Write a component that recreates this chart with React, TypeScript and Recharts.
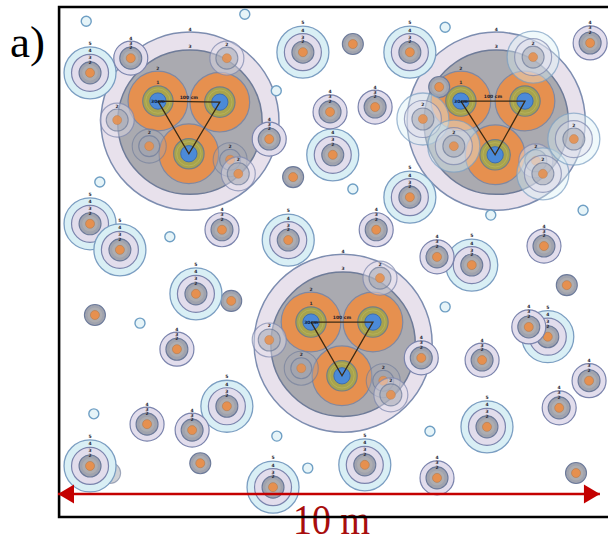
import React from 'react';
import { ScatterChart, Scatter, XAxis, YAxis, ReferenceArea } from 'recharts';

// ---------- data (metres, origin = bottom-left corner of the 10 m frame) ----------
const tinyRings: [number, number][] = [
  [0.52, 9.13], [3.44, 9.26], [0.77, 6.17], [2.06, 5.16], [1.51, 3.57], [0.66, 1.9],
  [4.03, 1.49], [5.43, 6.04], [7.13, 9.02], [9.67, 5.65], [7.13, 3.87], [6.85, 1.58],
  [4.6, 0.9], [4.02, 7.85], [7.97, 5.56],
];
const greyDiscs: [number, number][] = [
  [5.43, 8.71], [4.33, 6.26], [3.19, 3.98], [0.68, 3.72], [2.62, 0.99], [9.37, 4.27],
  [9.54, 0.81], [7.02, 7.92],
];
const fadedDiscs: [number, number][] = [[0.96, 0.81]];
const targets4: [number, number][] = [
  [9.8, 8.73], [5.01, 7.46], [5.84, 7.55], [3.02, 5.29], [5.86, 5.29], [6.98, 4.79],
  [8.95, 4.99], [2.19, 3.09], [1.64, 1.71], [2.47, 1.6], [8.67, 3.5], [7.81, 2.89],
  [9.78, 2.51], [9.23, 2.01], [6.98, 0.72], [1.34, 8.45], [3.89, 6.96], [6.69, 2.93],
];
const targets5: [number, number][] = [
  [0.59, 8.18], [4.51, 8.56], [6.48, 8.56], [5.06, 6.67], [6.48, 5.89], [0.59, 5.4],
  [1.14, 4.92], [4.24, 5.1], [7.62, 4.64], [2.54, 4.11], [3.11, 2.04], [0.59, 0.94],
  [3.96, 0.55], [9.02, 3.32], [7.9, 1.66], [5.65, 0.96],
];
const faded4: [number, number][] = [
  [3.11, 8.45], [1.09, 7.31], [3.32, 6.32], [8.8, 6.56], [5.93, 4.4], [3.89, 3.26], [6.13, 2.25],
];
const faded5: [number, number][] = [
  [6.72, 7.33], [7.29, 6.83], [8.93, 6.32], [9.5, 6.96], [8.75, 8.47],
];
const fadedGrey: [number, number][] = [
  [1.68, 6.83], [3.17, 6.58], [4.48, 2.74], [5.99, 2.51],
];
const cableClusters: [number, number][] = [[2.43, 7.29], [8.07, 7.29], [5.25, 3.2]];
const conductorsA: [number, number][] = [[1.84, 7.66], [2.98, 7.64], [2.41, 6.69]];
const conductorsB: [number, number][] = [[7.42, 7.66], [8.6, 7.66], [8.05, 6.67]];
const conductorsC: [number, number][] = [[4.66, 3.59], [5.8, 3.59], [5.23, 2.6]];
const conductorGroups = [conductorsA, conductorsB, conductorsC];
const coreLabel = '30cm';
const spacingLabel = '100 cm';
const arrowEnds: [number, number, number][] = [[0, 0.424, -1], [9.98, 0.424, 1]];
const panelLabel = 'a)';
const scaleLabel = '10 m';

// ---------- layout ----------
const W = 608;
const H = 538;
const MARGIN = { top: 7, right: 7, bottom: 21, left: 58 };
const X_SPAN = 10;
const PX = (W - MARGIN.left - MARGIN.right) / X_SPAN;
const Y_MAX = (H - MARGIN.top - MARGIN.bottom) / PX;

const pts = (a: [number, number][]) => a.map(([x, y]) => ({ x, y }));

// ---------- styles ----------
const C = {
  cyan: '#d9eff5', cyanS: '#7b9ec2',
  lav: '#e2ddec', lavS: '#7b84ad',
  grey: '#a0a3ae', greyS: '#6c7a9a',
  grey2: '#adadb1',
  orange: '#e6904f', orangeS: '#b57a4e',
  bigLav: '#e8e1ec', bigGrey: '#aaaab0',
  olive: '#a8a34c', blue: '#4b8ad8', blueS: '#3c6db3',
};

const Lbl = ({ x, y, t }: { x: number; y: number; t: string }) => (
  <text x={x} y={y} fontSize={4.5} fontWeight="bold" fontFamily="DejaVu Sans" textAnchor="middle" fill="#2a2a36">{t}</text>
);

const circ = (cx: number, cy: number, r: number, fill: string, stroke: string, sw = 1.2, fo = 1, so = 1) => (
  <circle cx={cx} cy={cy} r={r} fill={fill} fillOpacity={fo} stroke={stroke} strokeWidth={sw} strokeOpacity={so} />
);

const TinyShape = (p: any) => <g>{circ(p.cx, p.cy, 5, '#e6f4f8', '#6f9fc4', 1.4)}</g>;

const DiscShape = (p: any) => (
  <g>
    {circ(p.cx, p.cy, 10.5, C.grey, C.greyS, 1.1)}
    {circ(p.cx, p.cy, 7.5, C.grey2, 'none', 0)}
    {circ(p.cx, p.cy, 4.5, C.orange, C.orangeS, 0.6)}
  </g>
);
const FadedDiscShape = (p: any) => (
  <g>
    {circ(p.cx, p.cy, 10.5, C.grey, C.greyS, 1.1, 0.5, 0.6)}
    {circ(p.cx, p.cy, 4.5, C.orange, C.orangeS, 0.6, 0.5, 0.5)}
  </g>
);

const T4Shape = (p: any) => (
  <g>
    {circ(p.cx, p.cy, 17, C.lav, C.lavS, 1.2)}
    {circ(p.cx, p.cy, 11, C.grey, C.greyS, 1.1)}
    {circ(p.cx, p.cy, 7.5, C.grey2, 'none', 0)}
    {circ(p.cx, p.cy, 4.5, C.orange, C.orangeS, 0.6)}
    <Lbl x={p.cx} y={p.cy - 18.5} t="4" />
    <Lbl x={p.cx} y={p.cy - 13.5} t="3" />
    <Lbl x={p.cx} y={p.cy - 9} t="2" />
  </g>
);
const T5Shape = (p: any) => (
  <g>
    {circ(p.cx, p.cy, 26, C.cyan, C.cyanS, 1.3)}
    {circ(p.cx, p.cy, 18.5, C.lav, C.lavS, 1.2)}
    {circ(p.cx, p.cy, 11, C.grey, C.greyS, 1.1)}
    {circ(p.cx, p.cy, 7.8, C.grey2, 'none', 0)}
    {circ(p.cx, p.cy, 4.5, C.orange, C.orangeS, 0.6)}
    <Lbl x={p.cx} y={p.cy - 28} t="5" />
    <Lbl x={p.cx} y={p.cy - 20.5} t="4" />
    <Lbl x={p.cx} y={p.cy - 13.5} t="3" />
    <Lbl x={p.cx} y={p.cy - 9} t="2" />
  </g>
);
const F4Shape = (p: any) => (
  <g>
    {circ(p.cx, p.cy, 17, C.lav, C.lavS, 1.2, 0.45, 0.7)}
    {circ(p.cx, p.cy, 11, C.grey, C.greyS, 1.1, 0.5, 0.7)}
    {circ(p.cx, p.cy, 4.5, C.orange, C.orangeS, 0.6, 0.9, 0.7)}
    <Lbl x={p.cx} y={p.cy - 12.5} t="2" />
  </g>
);
const F5Shape = (p: any) => (
  <g>
    {circ(p.cx, p.cy, 26, C.cyan, C.cyanS, 1.3, 0.4, 0.7)}
    {circ(p.cx, p.cy, 18.5, C.lav, C.lavS, 1.2, 0.4, 0.7)}
    {circ(p.cx, p.cy, 11, C.grey, C.greyS, 1.1, 0.5, 0.7)}
    {circ(p.cx, p.cy, 4.5, C.orange, C.orangeS, 0.6, 0.9, 0.7)}
    <Lbl x={p.cx} y={p.cy - 12.5} t="2" />
  </g>
);
const FGreyShape = (p: any) => (
  <g>
    {circ(p.cx, p.cy, 17, '#a4a6b2', C.greyS, 1.1, 0.35, 0.6)}
    {circ(p.cx, p.cy, 10.5, C.grey, C.greyS, 1.1, 0.55, 0.7)}
    {circ(p.cx, p.cy, 4.5, C.orange, C.orangeS, 0.6, 0.9, 0.7)}
    <Lbl x={p.cx} y={p.cy - 12} t="2" />
  </g>
);

const R_OUTER = 1.64;
const R_GREY = 1.33;
const R_SHEATH = 0.55;
const R_INS = 0.28;
const R_CORE = 0.15;

const ClusterShape = (p: any) => (
  <g>
    {circ(p.cx, p.cy, R_OUTER * PX, C.bigLav, '#7d8db0', 1.5)}
    {circ(p.cx, p.cy + 1, R_GREY * PX, C.bigGrey, '#6e7b98', 1.5)}
    <Lbl x={p.cx} y={p.cy - R_OUTER * PX - 1.5} t="4" />
    <Lbl x={p.cx} y={p.cy - R_GREY * PX - 1} t="3" />
  </g>
);

const ConductorShape = (p: any) => (
  <g>
    {circ(p.cx, p.cy, R_SHEATH * PX, C.orange, '#7f88a2', 1.2)}
    {circ(p.cx, p.cy, R_INS * PX, C.olive, '#737f86', 1.2)}
    {circ(p.cx, p.cy, R_INS * PX - 3, 'none', '#b9b55c', 0.8)}
    {circ(p.cx, p.cy, R_CORE * PX, C.blue, C.blueS, 1)}
  </g>
);
const FirstConductorNotes = (p: any) => (
  <g>
    <Lbl x={p.cx} y={p.cy - R_SHEATH * PX - 1.5} t="2" />
    <Lbl x={p.cx} y={p.cy - R_INS * PX - 1.5} t="1" />
    <text x={p.cx} y={p.cy + 2} fontSize={4.5} fontWeight="bold" fontFamily="DejaVu Sans" textAnchor="middle" fill="#0d1b3a">{coreLabel}</text>
  </g>
);
const SpacingNote = (p: any) => (
  <text x={p.cx} y={p.cy - 3} fontSize={4.5} fontWeight="bold" fontFamily="DejaVu Sans" textAnchor="middle" fill="#1c1c2c">{spacingLabel}</text>
);
const NoShape = () => <g />;

const ArrowHead = (p: any) => {
  const d = p.payload.dir;
  const { cx, cy } = p;
  const b = cx - d * 16;
  return <polygon points={`${cx},${cy} ${b},${cy - 9.5} ${b},${cy + 9.5}`} fill="#c40000" />;
};

export default function App() {
  const arrowData = arrowEnds.map(([x, y, dir]) => ({ x, y, dir }));
  return (
    <div style={{ position: 'absolute', left: 0, top: 0, width: W, height: H, background: '#fff' }}>
      <ScatterChart width={W} height={H} margin={MARGIN}>
        <XAxis type="number" dataKey="x" domain={[0, X_SPAN]} hide />
        <YAxis type="number" dataKey="y" domain={[0, Y_MAX]} hide />
        <Scatter data={pts(cableClusters)} shape={ClusterShape} isAnimationActive={false} />
        {conductorGroups.map((g, i) => (
          <Scatter key={'c' + i} data={pts(g)} shape={ConductorShape} isAnimationActive={false} />
        ))}
        <Scatter data={pts(tinyRings)} shape={TinyShape} isAnimationActive={false} />
        <Scatter data={pts(greyDiscs)} shape={DiscShape} isAnimationActive={false} />
        <Scatter data={pts(fadedDiscs)} shape={FadedDiscShape} isAnimationActive={false} />
        <Scatter data={pts(targets5)} shape={T5Shape} isAnimationActive={false} />
        <Scatter data={pts(targets4)} shape={T4Shape} isAnimationActive={false} />
        <Scatter data={pts(fadedGrey)} shape={FGreyShape} isAnimationActive={false} />
        <Scatter data={pts(faded4)} shape={F4Shape} isAnimationActive={false} />
        <Scatter data={pts(faded5)} shape={F5Shape} isAnimationActive={false} />
        {conductorGroups.map((g, i) => (
          <Scatter
            key={'t' + i}
            data={pts([...g, g[0]])}
            shape={NoShape}
            line={{ stroke: '#3b2a14', strokeWidth: 1.3 }}
            lineType="joint"
            isAnimationActive={false}
          />
        ))}
        {conductorGroups.map((g, i) => (
          <Scatter key={'n' + i} data={pts([g[0]])} shape={FirstConductorNotes} isAnimationActive={false} />
        ))}
        <Scatter
          data={conductorGroups.map((g) => ({ x: (g[0][0] + g[1][0]) / 2, y: (g[0][1] + g[1][1]) / 2 }))}
          shape={SpacingNote}
          isAnimationActive={false}
        />
        <Scatter
          data={arrowData}
          shape={ArrowHead}
          line={{ stroke: '#c40000', strokeWidth: 2.5 }}
          lineType="joint"
          isAnimationActive={false}
        />
        <ReferenceArea x1={0.02} x2={10.4} y1={0} y2={Y_MAX} fill="none" stroke="#000" strokeWidth={2.6} ifOverflow="visible" />
        <text x={10} y={57} fontSize={45} fontFamily="Liberation Serif" fill="#000">{panelLabel}</text>
        <text x={293} y={534} fontSize={43} fontFamily="Liberation Serif" fill="#a80d0d" textLength={77} lengthAdjust="spacingAndGlyphs">{scaleLabel}</text>
      </ScatterChart>
    </div>
  );
}
